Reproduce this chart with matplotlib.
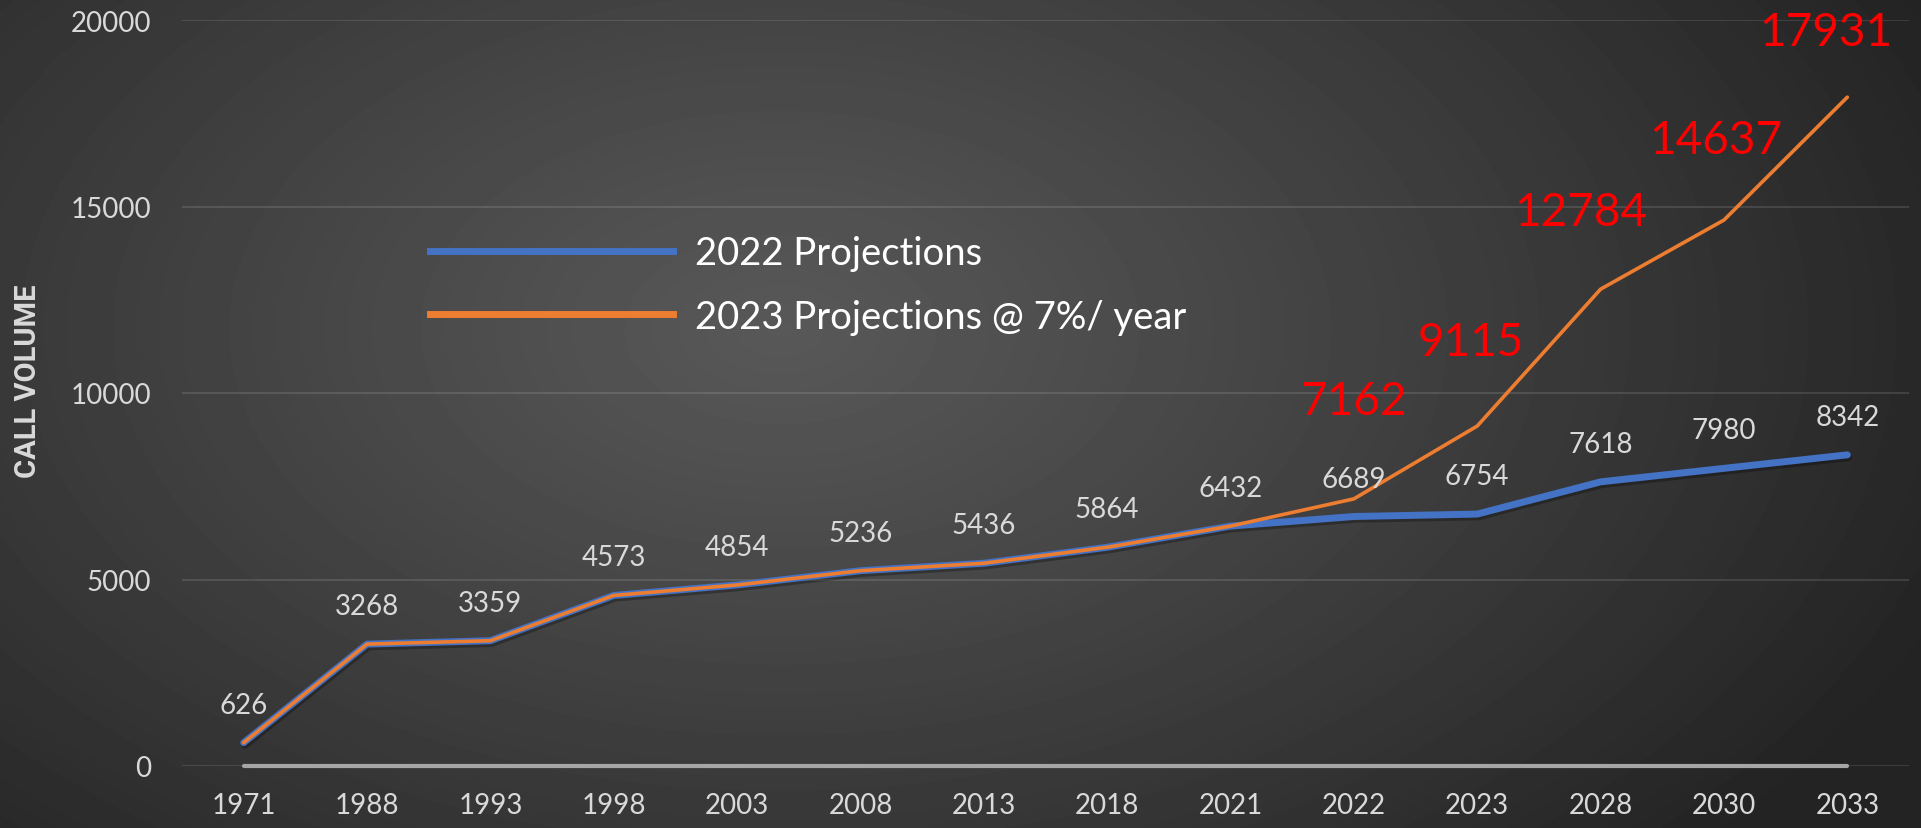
import numpy as np
import matplotlib.pyplot as plt
import matplotlib.patheffects as pe
from matplotlib.lines import Line2D

plt.rcParams['font.family'] = ['Lato', 'DejaVu Sans']

years = ['1971', '1988', '1993', '1998', '2003', '2008', '2013',
         '2018', '2021', '2022', '2023', '2028', '2030', '2033']
proj_2022 = [626, 3268, 3359, 4573, 4854, 5236, 5436,
             5864, 6432, 6689, 6754, 7618, 7980, 8342]
proj_2023 = [626, 3268, 3359, 4573, 4854, 5236, 5436,
             5864, 6432, 7162, 9115, 12784, 14637, 17931]
baseline = [0, 0, 0, 0, 0, 0, 0, 0, 0, 0, 0, 0, 0, 0]
y_ticks = [0, 5000, 10000, 15000, 20000]

BLUE = '#4472C4'
ORANGE = '#ED7D31'
LABEL = '#D9D9D9'

W, H = 1921, 829
fig = plt.figure(figsize=(W / 100, H / 100), dpi=100)

# dark radial background like the slide
bg = fig.add_axes([0, 0, 1, 1], zorder=-10)
yy, xx = np.mgrid[0:H, 0:W]
d = np.sqrt(((xx - 780) / 1250.0) ** 2 + ((yy - 330) / 760.0) ** 2)
d = np.clip(d, 0, 1)
val = 0.345 - (0.345 - 0.14) * d ** 1.1
bg.imshow(val, cmap='gray', vmin=0, vmax=1, aspect='auto', interpolation='bilinear')
bg.axis('off')

ax = fig.add_axes([182 / W, 1 - 767 / H, 1727 / W, 746 / H])
ax.patch.set_alpha(0)
x = np.arange(len(years))

ax.plot(x, baseline, color='#A6A6A6', lw=3, solid_capstyle='round', clip_on=False, zorder=3)
ax.plot(x, proj_2022, color=BLUE, lw=5, solid_capstyle='round', zorder=4, clip_on=False,
        path_effects=[pe.SimpleLineShadow(offset=(1, -2), shadow_color='black', alpha=0.28),
                      pe.Normal()])
ax.plot(x, proj_2023, color=ORANGE, lw=2.6, solid_capstyle='round', zorder=5, clip_on=False)

for i, v in enumerate(proj_2022):
    ax.annotate(str(v), (x[i], v), xytext=(0, 38), textcoords='offset pixels',
                ha='center', va='center', fontsize=20, color=LABEL, zorder=6)

red_offsets = [(0, 98), (-6, 84), (-20, 77), (-8, 80), (-22, 65)]
for k, i in enumerate(range(9, len(years))):
    ax.annotate(str(proj_2023[i]), (x[i], proj_2023[i]), xytext=red_offsets[k],
                textcoords='offset pixels', ha='center', va='center',
                fontsize=33, color='#FF0000', zorder=6)

ax.set_xlim(-0.5, len(years) - 0.5)
ax.set_ylim(0, 20000)
ax.set_xticks(x)
ax.set_xticklabels(years)
ax.set_yticks(y_ticks)
ax.set_yticklabels([str(t) for t in y_ticks])
ax.tick_params(axis='both', length=0, labelsize=20, labelcolor=LABEL)
ax.tick_params(axis='y', pad=22)
ax.tick_params(axis='x', pad=19)
ax.grid(axis='y', color='white', alpha=0.13, lw=1.3)
ax.set_axisbelow(True)
for s in ax.spines.values():
    s.set_visible(False)

fig.text(28 / W, 1 - 381 / H, 'CALL VOLUME', rotation=90, ha='center', va='center',
         fontsize=21, fontweight='bold', color=LABEL,
         family=['Liberation Sans Narrow', 'Roboto', 'DejaVu Sans'])

handles = [Line2D([], [], color=BLUE, lw=5), Line2D([], [], color=ORANGE, lw=5)]
leg = ax.legend(handles, ['2022 Projections', '2023 Projections @ 7%/ year'],
                loc='center left', bbox_to_anchor=(430 / W, 1 - 286 / H),
                bbox_transform=fig.transFigure, frameon=False, fontsize=27.5,
                handlelength=6.35, handletextpad=0.6, labelspacing=0.72,
                borderpad=0, borderaxespad=0, labelcolor='white')

fig.savefig('out.png', dpi=100)
